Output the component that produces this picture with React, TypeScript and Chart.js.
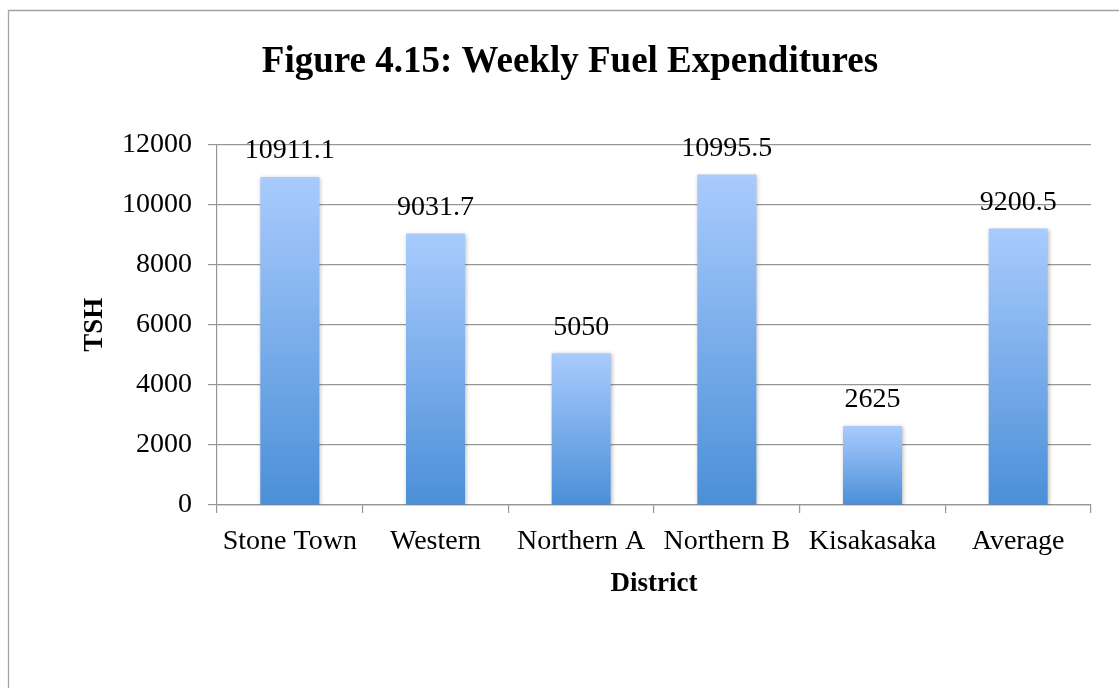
import React, { useEffect, useRef } from "react";
import { Chart, registerables } from "chart.js";

Chart.register(...registerables);

const TITLE = "Figure 4.15: Weekly Fuel Expenditures";
const X_TITLE = "District";
const Y_TITLE = "TSH";
const CATEGORIES = ["Stone Town", "Western", "Northern A", "Northern B", "Kisakasaka", "Average"];
const VALUES = [10911.1, 9031.7, 5050, 10995.5, 2625, 9200.5];
const VALUE_LABELS = ["10911.1", "9031.7", "5050", "10995.5", "2625", "9200.5"];
const Y_MIN = 0;
const Y_MAX = 12000;
const Y_STEP = 2000;

const SERIF = "'Liberation Serif', 'Times New Roman', serif";
const GRID = "#969696";
const BAR_TOP = "#a9cbfd";
const BAR_BOTTOM = "#4b8fd8";

const frame = {
  id: "frame",
  beforeDraw(chart: any) {
    const { ctx, width, height } = chart;
    ctx.save();
    ctx.strokeStyle = "#a4a4a4";
    ctx.lineWidth = 1.3;
    ctx.beginPath();
    ctx.moveTo(8.5, height);
    ctx.lineTo(8.5, 10.5);
    ctx.lineTo(width, 10.5);
    ctx.stroke();
    ctx.restore();
  },
};

const barDecor = {
  id: "barDecor",
  beforeDatasetsDraw(chart: any) {
    const ctx = chart.ctx;
    ctx.save();
    ctx.shadowColor = "rgba(0,0,0,0.28)";
    ctx.shadowBlur = 4;
    ctx.shadowOffsetX = 1;
    ctx.shadowOffsetY = 1;
  },
  afterDatasetsDraw(chart: any) {
    const ctx = chart.ctx;
    ctx.restore();
    ctx.save();
    ctx.font = `28px ${SERIF}`;
    ctx.fillStyle = "#000";
    ctx.textAlign = "center";
    ctx.textBaseline = "middle";
    const meta = chart.getDatasetMeta(0);
    meta.data.forEach((el: any, i: number) => {
      ctx.fillText(VALUE_LABELS[i], el.x, el.y - 26);
    });
    ctx.restore();
  },
};

export default function App() {
  const ref = useRef<HTMLCanvasElement>(null);
  useEffect(() => {
    if (!ref.current) return;
    const chart = new Chart(ref.current, {
      type: "bar",
      data: {
        labels: CATEGORIES,
        datasets: [
          {
            data: VALUES,
            categoryPercentage: 1,
            barPercentage: 0.405,
            borderWidth: 0,
            backgroundColor: (c: any) => {
              const ch = c.chart;
              if (!ch.chartArea || c.type !== "data") return BAR_BOTTOM;
              const y = ch.scales.y;
              const top = y.getPixelForValue(c.raw);
              const bot = y.getPixelForValue(0);
              const g = ch.ctx.createLinearGradient(0, top, 0, bot);
              g.addColorStop(0, BAR_TOP);
              g.addColorStop(1, BAR_BOTTOM);
              return g;
            },
          },
        ],
      },
      options: {
        responsive: false,
        animation: false,
        layout: { padding: { left: 49, right: 28, top: 0, bottom: 0 } },
        plugins: {
          legend: { display: false },
          tooltip: { enabled: false },
          title: {
            display: true,
            text: TITLE,
            color: "#000",
            font: { family: SERIF, size: 37, weight: "bold" },
            padding: { top: 40, bottom: 60 },
          },
        },
        scales: {
          x: {
            afterFit: (s: any) => {
              s.height = 183;
            },
            grid: {
              offset: true,
              drawOnChartArea: false,
              drawTicks: true,
              tickLength: 8,
              color: GRID,
              lineWidth: 1.2,
            },
            border: { display: true, color: GRID, width: 1.2 },
            ticks: {
              color: "#000",
              font: { family: SERIF, size: 28 },
              padding: 12,
              maxRotation: 0,
            },
            title: {
              display: true,
              text: X_TITLE,
              color: "#000",
              font: { family: SERIF, size: 27, weight: "bold" },
              padding: { top: 0, bottom: 88 },
            },
          },
          y: {
            min: Y_MIN,
            max: Y_MAX,
            afterFit: (s: any) => {
              s.width = 168;
            },
            grid: {
              drawOnChartArea: true,
              drawTicks: true,
              tickLength: 9,
              color: GRID,
              lineWidth: 1.2,
            },
            border: { display: true, color: GRID, width: 1.2 },
            ticks: {
              stepSize: Y_STEP,
              color: "#000",
              font: { family: SERIF, size: 28 },
              padding: 16,
              callback: (v: any) => String(v),
            },
            title: {
              display: true,
              text: Y_TITLE,
              color: "#000",
              font: { family: SERIF, size: 27, weight: "bold" },
              padding: { top: 30, bottom: 0 },
            },
          },
        },
      },
      plugins: [frame, barDecor],
    });
    return () => chart.destroy();
  }, []);
  return (
    <div style={{ position: "fixed", left: 0, top: 0, width: 1119, height: 688, background: "#fff" }}>
      <canvas ref={ref} width={1119} height={688} style={{ display: "block" }} />
    </div>
  );
}
